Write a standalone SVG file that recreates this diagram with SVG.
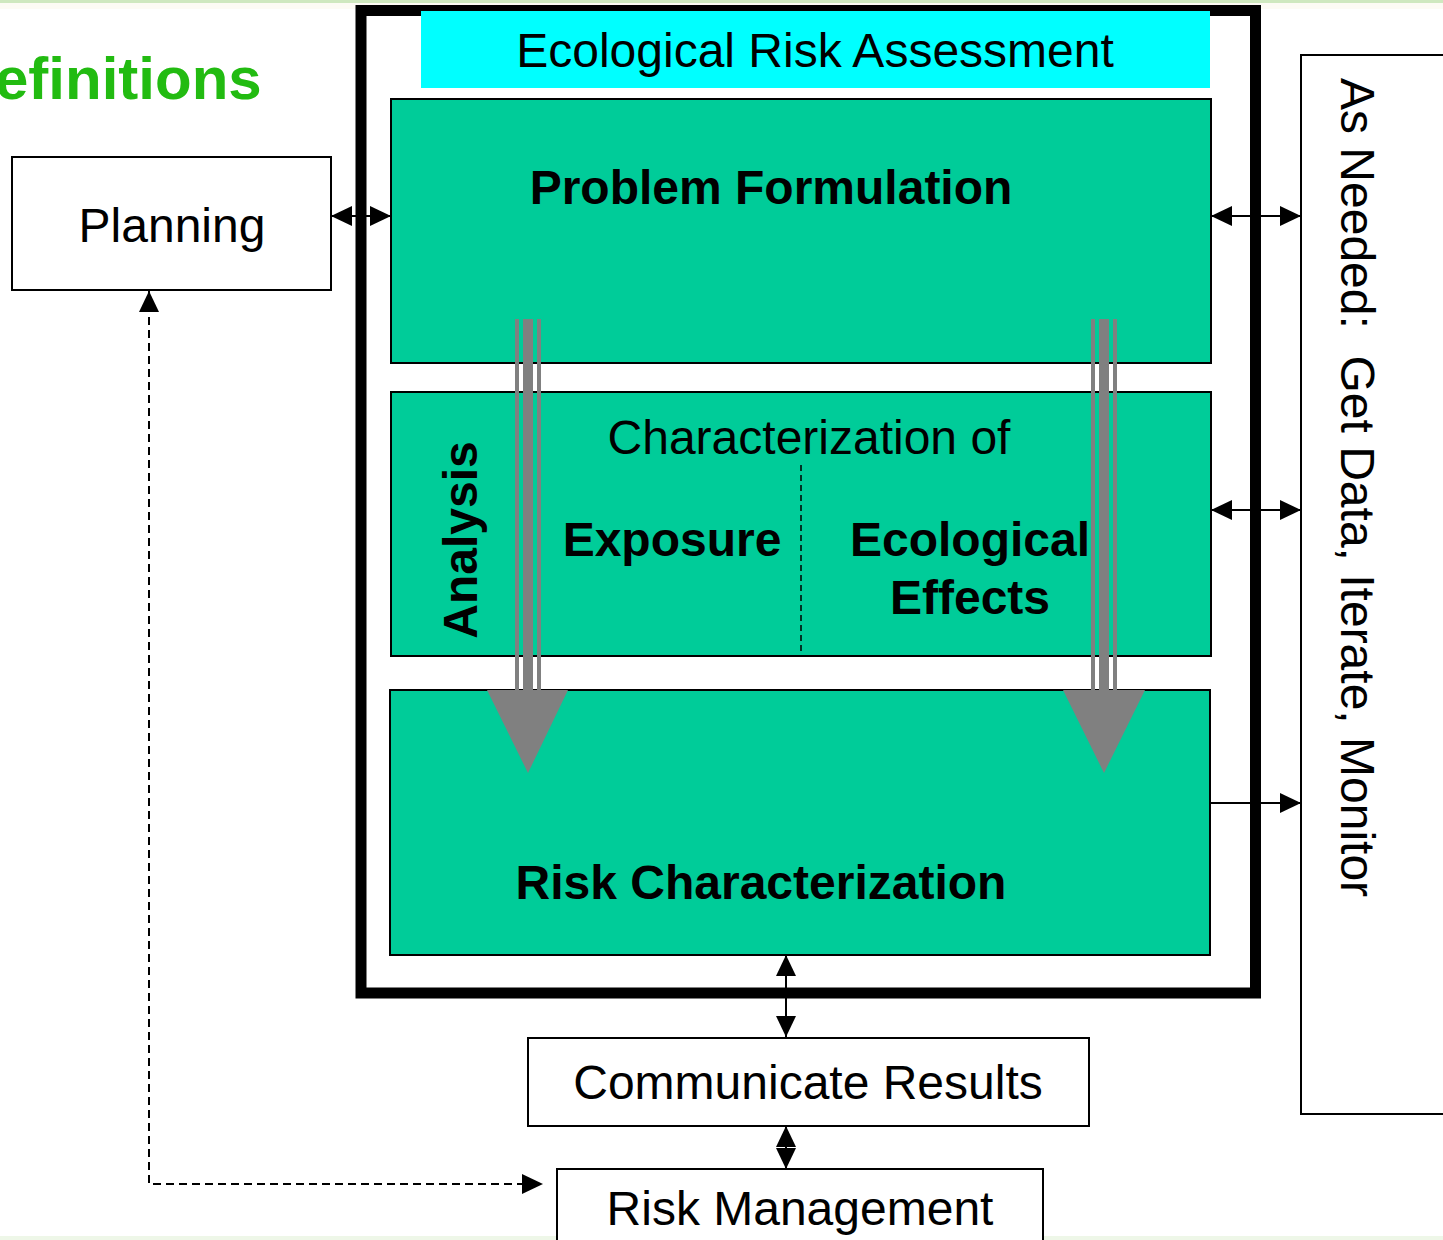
<svg xmlns="http://www.w3.org/2000/svg" width="1443" height="1240" viewBox="0 0 1443 1240">
  <style>
    text { font-family: "Liberation Sans", Arial, sans-serif; fill: #000; }
    .t { font-size: 48px; }
    .b { font-size: 48px; font-weight: bold; }
    .box { fill: #fff; stroke: #000; stroke-width: 2; }
    .stage { fill: #00CC99; stroke: #000; stroke-width: 2; }
    .link { fill: none; stroke: #000; stroke-width: 2; }
    .gray { fill: #808080; }
  </style>
  <defs>
    <marker id="ah" markerUnits="userSpaceOnUse" markerWidth="21" markerHeight="20" refX="21" refY="10" orient="auto-start-reverse">
      <path d="M0,0 L21,10 L0,20 Z" fill="#000"/>
    </marker>
  </defs>

  <!-- page background and slide edge strips -->
  <rect x="0" y="0" width="1443" height="1240" fill="#fff"/>
  <rect x="0" y="0" width="1443" height="3" fill="#cfe8bf"/>
  <rect x="0" y="3" width="1443" height="6" fill="#fdfbf4"/>
  <rect x="0" y="1236" width="1443" height="4" fill="#eef7e8"/>

  <!-- slide title -->
  <text x="-5" y="99" style="font-size:60px;font-weight:bold;fill:#22BB11">efinitions</text>

  <!-- outer assessment frame -->
  <g id="frame">
    <rect x="361" y="10.5" width="894.5" height="982.5" fill="none" stroke="#000" stroke-width="11"/>
  </g>

  <g id="header">
    <rect x="421" y="11" width="789" height="77" fill="#00FFFF"/>
    <text class="t" x="815" y="67" text-anchor="middle">Ecological Risk Assessment</text>
  </g>

  <g id="problem-formulation">
    <rect class="stage" x="391" y="99" width="820" height="264"/>
    <text class="b" x="771" y="204" text-anchor="middle">Problem Formulation</text>
  </g>

  <g id="analysis">
    <rect class="stage" x="391" y="392" width="820" height="264"/>
    <text class="b" transform="translate(477,540) rotate(-90)" text-anchor="middle">Analysis</text>
    <text class="t" x="809" y="454" text-anchor="middle">Characterization of</text>
    <line x1="801" y1="465" x2="801" y2="656" stroke="#000" stroke-width="1.5" stroke-dasharray="6,4"/>
    <text class="b" x="672" y="556" text-anchor="middle">Exposure</text>
    <text class="b" x="970" y="556" text-anchor="middle">Ecological</text>
    <text class="b" x="970" y="614" text-anchor="middle">Effects</text>
  </g>

  <g id="risk-characterization">
    <rect class="stage" x="390" y="690" width="820" height="265"/>
    <text class="b" x="761" y="899" text-anchor="middle">Risk Characterization</text>
  </g>

  <g id="planning">
    <rect class="box" x="12" y="157" width="319" height="133"/>
    <text class="t" x="172" y="242" text-anchor="middle">Planning</text>
  </g>

  <g id="as-needed">
    <rect class="box" x="1301" y="55" width="200" height="1059" stroke-width="2.5"/>
    <text class="t" transform="translate(1341,78) rotate(90)" style="white-space:pre">As Needed:  Get Data, Iterate, Monitor</text>
  </g>

  <g id="communicate-results">
    <rect class="box" x="528" y="1038" width="561" height="88"/>
    <text class="t" x="808" y="1099" text-anchor="middle">Communicate Results</text>
  </g>

  <g id="risk-management">
    <rect class="box" x="557" y="1169" width="486" height="90"/>
    <text class="t" x="800" y="1225" text-anchor="middle">Risk Management</text>
  </g>

  <!-- connectors -->
  <g id="connectors">
    <line class="link" x1="331" y1="216" x2="391" y2="216" marker-start="url(#ah)" marker-end="url(#ah)"/>
    <line class="link" x1="1211" y1="216" x2="1301" y2="216" marker-start="url(#ah)" marker-end="url(#ah)"/>
    <line class="link" x1="1211" y1="510" x2="1301" y2="510" marker-start="url(#ah)" marker-end="url(#ah)"/>
    <line class="link" x1="1210" y1="803" x2="1301" y2="803" marker-end="url(#ah)"/>
    <line class="link" x1="786" y1="955" x2="786" y2="1037" marker-start="url(#ah)" marker-end="url(#ah)"/>
    <line class="link" x1="786" y1="1126" x2="786" y2="1169" marker-start="url(#ah)" marker-end="url(#ah)"/>
    <path class="link" d="M149,291 V1184 H543" stroke-width="1.5" stroke-dasharray="8,5" marker-start="url(#ah)" marker-end="url(#ah)"/>

    <!-- flow from problem formulation to risk characterization -->
    <rect class="gray" x="515" y="319" width="4" height="372"/>
    <rect class="gray" x="523" y="319" width="10" height="372"/>
    <rect class="gray" x="537" y="319" width="4" height="372"/>
    <polygon class="gray" points="487,690 568,690 528,773"/>
    <rect class="gray" x="1091" y="319" width="4" height="372"/>
    <rect class="gray" x="1099" y="319" width="10" height="372"/>
    <rect class="gray" x="1113" y="319" width="4" height="372"/>
    <polygon class="gray" points="1063,690 1145,690 1104,773"/>
  </g>
</svg>
